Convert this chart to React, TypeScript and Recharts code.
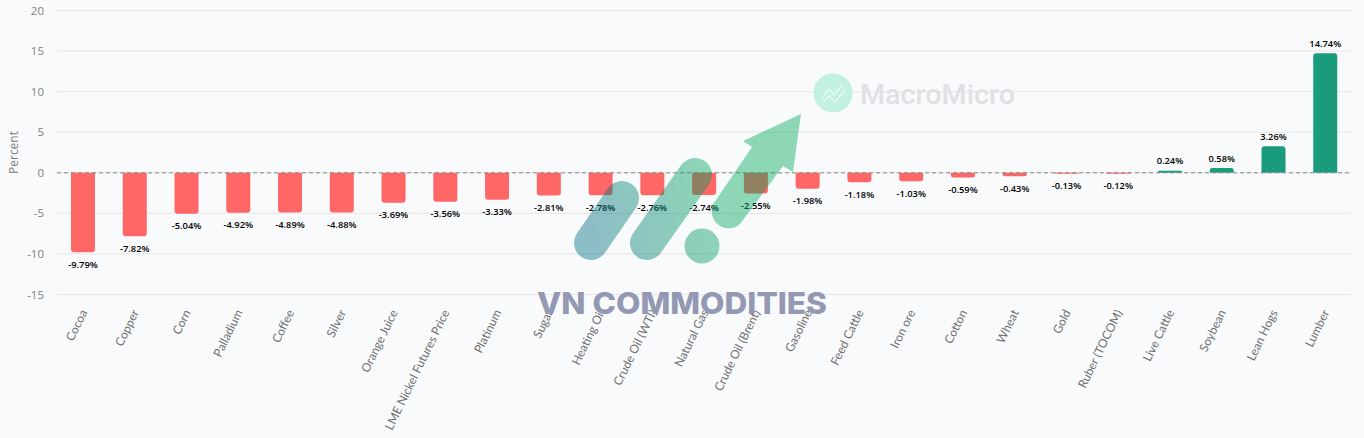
import { BarChart, Bar, Cell, XAxis, YAxis, CartesianGrid, ReferenceLine, LabelList, Label } from 'recharts'

const categories = ['Cocoa', 'Copper', 'Corn', 'Palladium', 'Coffee', 'Silver', 'Orange Juice', 'LME Nickel Futures Price', 'Platinum', 'Sugar', 'Heating Oil', 'Crude Oil (WTI)', 'Natural Gas', 'Crude Oil (Brent)', 'Gasoline', 'Feed Cattle', 'Iron ore', 'Cotton', 'Wheat', 'Gold', 'Ruber (TOCOM)', 'Live Cattle', 'Soybean', 'Lean Hogs', 'Lumber']
const changes = [-9.79, -7.82, -5.04, -4.92, -4.89, -4.88, -3.69, -3.56, -3.33, -2.81, -2.78, -2.76, -2.74, -2.55, -1.98, -1.18, -1.03, -0.59, -0.43, -0.13, -0.12, 0.24, 0.58, 3.26, 14.74]
const yTicks = [-15, -10, -5, 0, 5, 10, 15, 20]

const UP = '#1a9c7c'
const DOWN = '#ff6666'
const FONT = '"Open Sans", sans-serif'

const data = categories.map((name, i) => ({ name, value: changes[i] }))

// y is the tip of the bar for both signs
const ValueLabel = ({ x, y, width, value }: any) => (
  <text
    x={x + width / 2}
    y={value < 0 ? y + 12 : y - 10}
    textAnchor="middle"
    dominantBaseline="central"
    fontSize={9.3}
    fontWeight={600}
    fontFamily={FONT}
    fill="#000"
  >
    {value.toFixed(2)}%
  </text>
)

// the two logos laid over the chart
const Watermarks = () => (
  <svg width={1364} height={438} style={{ position: 'absolute', left: 0, top: 0, pointerEvents: 'none' }}>
    <defs>
      <linearGradient id="vn" gradientUnits="userSpaceOnUse" x1={590} y1={230} x2={720} y2={190}>
        <stop offset="0" stopColor="#006f80" />
        <stop offset="1" stopColor="#00a85c" />
      </linearGradient>
    </defs>
    <circle cx={833} cy={93} r={19.5} fill="#c2f0e3" />
    <path d="M821 99 L829 89 L834 95 L843 84 M823 103 L829 96 L835 102 L845 90" fill="none" stroke="#ecfaf6" strokeWidth={1.2} />
    <text x={860} y={104} fontSize={27} fontWeight={500} fontFamily="Roboto, sans-serif" fill="#dfe1e5" textLength={155} lengthAdjust="spacingAndGlyphs">MacroMicro</text>
    <g opacity={0.43}>
      <path d="M591 243 L622 198 M647 243 L695 175" stroke="url(#vn)" strokeWidth={34} strokeLinecap="round" fill="none" />
      <circle cx={702} cy={246} r={17.5} fill="url(#vn)" />
      <path d="M801 114 L743 141 L752 147 L716 200 A17 17 0 0 0 740 224 L783 166 L793 172 Z" fill="url(#vn)" />
    </g>
    <text x={537} y={314} fontSize={30} fontWeight={800} fontFamily="Inter, sans-serif" fill="#9398b3" textLength={290} lengthAdjust="spacingAndGlyphs">VN COMMODITIES</text>
  </svg>
)

export default function App() {
  return (
    <div style={{ position: 'absolute', left: 0, top: 0, width: 1364, height: 438, background: '#f9fafc', overflow: 'hidden' }}>
      <BarChart width={1364} height={438} data={data} margin={{ top: 10.5, right: 13, bottom: 0, left: 0 }}>
        <CartesianGrid vertical={false} stroke="#e6e6e6" />
        <XAxis
          dataKey="name"
          interval={0}
          height={143.5}
          axisLine={false}
          tickLine={false}
          angle={-64}
          textAnchor="end"
          tickMargin={8}
          tick={{ fontSize: 12, fontFamily: 'Lato, sans-serif', fill: '#707070', dx: -3 }}
        />
        <YAxis
          width={57}
          domain={[-15, 20]}
          ticks={yTicks}
          axisLine={false}
          tickLine={false}
          tickMargin={7}
          tick={{ fontSize: 11.5, fontFamily: FONT, fill: '#808080' }}
        >
          <Label value="Percent" angle={-90} position="insideLeft" offset={14} style={{ fontSize: 12, fontFamily: FONT, fill: '#808080', textAnchor: 'middle' }} />
        </YAxis>
        <ReferenceLine y={0} stroke="#888" strokeDasharray="4 3" />
        <Bar dataKey="value" barSize={24} radius={[3, 3, 0, 0]} isAnimationActive={false}>
          {data.map((d) => (
            <Cell key={d.name} fill={d.value < 0 ? DOWN : UP} />
          ))}
          <LabelList dataKey="value" content={<ValueLabel />} />
        </Bar>
      </BarChart>
      <Watermarks />
    </div>
  )
}
